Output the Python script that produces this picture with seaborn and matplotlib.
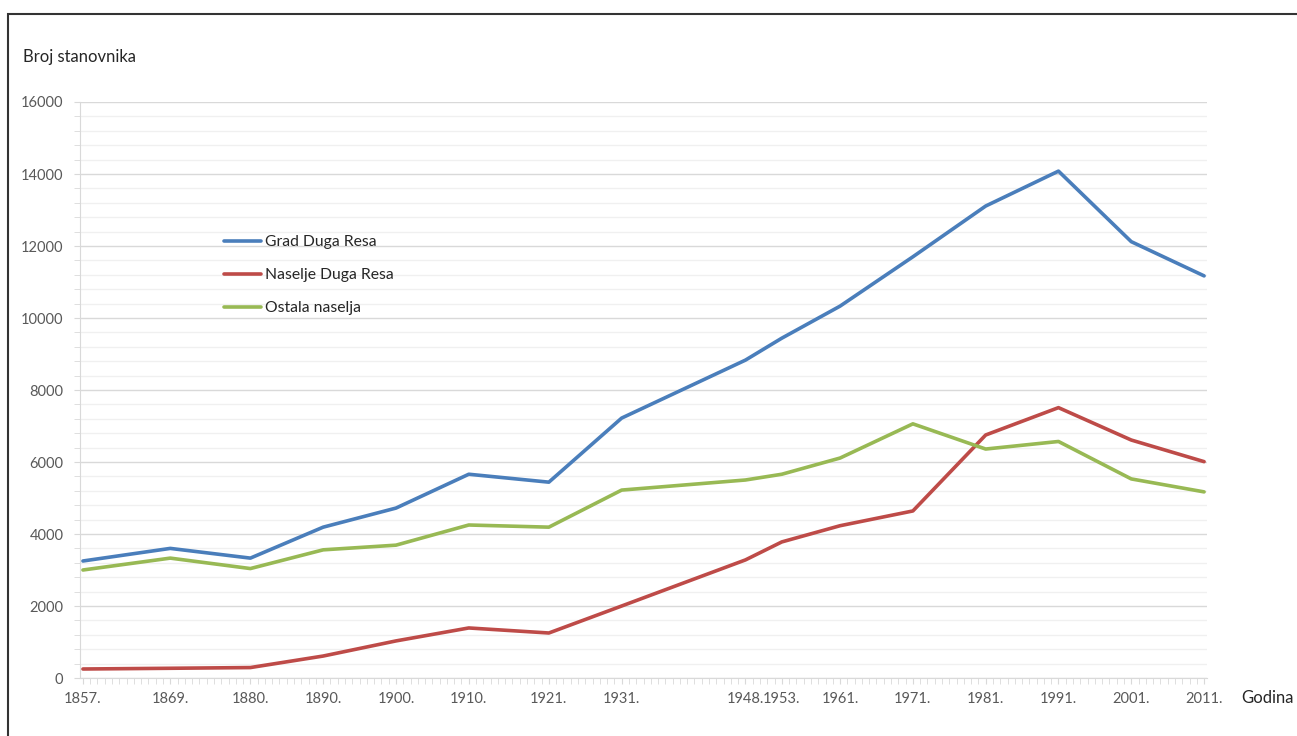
import pandas as pd
import matplotlib.pyplot as plt
import seaborn as sns
from matplotlib.ticker import MultipleLocator, FixedLocator
from matplotlib.patches import Rectangle

# --- Data ---
godine = [1857, 1869, 1880, 1890, 1900, 1910, 1921, 1931, 1948, 1953, 1961, 1971, 1981, 1991, 2001, 2011]
grad = [3250, 3600, 3330, 4190, 4720, 5660, 5440, 7220, 8830, 9440, 10330, 11700, 13110, 14080, 12120, 11170]
naselje = [250, 270, 290, 610, 1030, 1390, 1250, 2000, 3280, 3780, 4230, 4640, 6750, 7510, 6610, 6010]
ostala = [3000, 3330, 3040, 3560, 3690, 4250, 4190, 5220, 5500, 5660, 6110, 7060, 6360, 6570, 5530, 5170]
serije = ['Grad Duga Resa', 'Naselje Duga Resa', 'Ostala naselja']
boje = {'Grad Duga Resa': '#4a7ebb', 'Naselje Duga Resa': '#be4b48', 'Ostala naselja': '#98b954'}

df = pd.DataFrame({'godina': godine, serije[0]: grad, serije[1]: naselje, serije[2]: ostala})
df = df.melt(id_vars='godina', var_name='serija', value_name='stanovnika')

# --- Style ---
sns.set_style('white')
plt.rcParams['font.family'] = ['Lato', 'DejaVu Sans']

fig = plt.figure(figsize=(12.97, 7.36), dpi=100)
ax = fig.add_axes([80 / 1297, 1 - 678 / 736, 1127 / 1297, 576 / 736])

sns.lineplot(data=df, x='godina', y='stanovnika', hue='serija', hue_order=serije,
             palette=boje, linewidth=2.6, ax=ax, legend=True)

ax.set_xlim(1856.6, 2011.4)
ax.set_ylim(0, 16000)
ax.yaxis.set_major_locator(MultipleLocator(2000))
ax.yaxis.set_minor_locator(MultipleLocator(400))
ax.xaxis.set_major_locator(FixedLocator(godine))
ax.xaxis.set_minor_locator(MultipleLocator(1))
ax.set_xticklabels([f'{g}.' for g in godine])

ax.grid(which='major', axis='y', color='#d9d9d9', linewidth=1)
ax.grid(which='minor', axis='y', color='#f0f0f0', linewidth=1)
ax.set_axisbelow(True)
ax.tick_params(axis='y', which='both', left=True, length=4, color='#d9d9d9',
               labelsize=10.5, labelcolor='#595959', pad=8)
ax.tick_params(axis='x', which='both', bottom=True, length=4, color='#d9d9d9',
               labelsize=10.5, labelcolor='#595959', pad=6)
for s in ['top', 'right']:
    ax.spines[s].set_visible(False)
for s in ['left', 'bottom']:
    ax.spines[s].set_color('#d9d9d9')
ax.set_xlabel('')
ax.set_ylabel('')

leg = ax.legend(loc='upper left', bbox_to_anchor=(0.115, 0.793), frameon=False,
                handlelength=2.35, handletextpad=0.3, labelspacing=1.2, fontsize=11.3)
for h in leg.get_lines():
    h.set_linewidth(2.6)

fig.text(23 / 1297, 1 - 57 / 736, 'Broj stanovnika', fontsize=12, va='center', ha='left')
fig.text(1241 / 1297, 1 - 698 / 736, 'Godina', fontsize=12, va='center', ha='left')

# frame of the original picture
fig.patches.append(Rectangle((8 / 1297, -0.1), 1.2, 1.1 - 14 / 736,
                             transform=fig.transFigure, fill=False,
                             edgecolor='#333333', linewidth=1.5))

fig.savefig('out.png', dpi=100)
